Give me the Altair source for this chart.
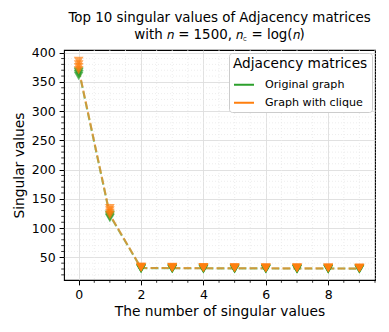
import altair as alt
import pandas as pd

# Data (several trials per graph type)
sv_index = list(range(10))
original_trials = [
    [360, 117, 30.0, 29.8, 29.6, 29.5, 29.4, 29.3, 29.2, 29.1],
    [363, 119, 30.4, 30.2, 30.0, 29.9, 29.8, 29.7, 29.6, 29.5],
    [366, 121, 30.8, 30.6, 30.4, 30.3, 30.2, 30.1, 30.0, 29.9],
    [368, 123, 31.2, 31.0, 30.8, 30.7, 30.6, 30.5, 30.4, 30.3],
]
clique_trials = [
    [370, 122, 32.0, 31.8, 31.6, 31.4, 31.3, 31.2, 31.1, 31.0],
    [375, 126, 32.6, 32.3, 32.1, 31.9, 31.8, 31.7, 31.6, 31.5],
    [380, 130, 33.2, 32.9, 32.6, 32.4, 32.2, 32.1, 32.0, 31.9],
    [386, 134, 33.8, 33.5, 33.2, 32.9, 32.7, 32.5, 32.4, 32.3],
]
original_mean = [371, 122, 31.6, 31.4, 31.2, 31.1, 31.0, 30.9, 30.8, 30.7]
clique_mean = [372, 123, 31.8, 31.6, 31.4, 31.3, 31.2, 31.1, 31.0, 30.9]

series_names = ["Original graph", "Graph with clique"]
series_colors = ["#2ca02c", "#ff7f0e"]

x_ticks = [0, 2, 4, 6, 8]
y_ticks = [50, 100, 150, 200, 250, 300, 350, 400]
x_minor = [v / 2 for v in range(-0, 20)]
y_minor = list(range(20, 410, 10))

pts = []
for trial in original_trials:
    for i, v in zip(sv_index, trial):
        pts.append({"k": i, "sv": v, "graph": series_names[0]})
for trial in clique_trials:
    for i, v in zip(sv_index, trial):
        pts.append({"k": i, "sv": v, "graph": series_names[1]})
pts = pd.DataFrame(pts)

lines = pd.DataFrame(
    [{"k": i, "sv": v, "graph": series_names[0]} for i, v in zip(sv_index, original_mean)]
    + [{"k": i, "sv": v, "graph": series_names[1]} for i, v in zip(sv_index, clique_mean)]
)

W, H = 311, 230
xs = alt.Scale(domain=[-0.47, 9.5], nice=False, zero=False)
ys = alt.Scale(domain=[11.2, 404.6], nice=False, zero=False)
cs = alt.Scale(domain=series_names, range=series_colors)

xmin_df = pd.DataFrame({"k": [v for v in x_minor if v not in x_ticks]})
ymin_df = pd.DataFrame({"sv": [v for v in y_minor if v not in y_ticks]})

x_axis = alt.Axis(values=x_ticks, format="d", labelOverlap=False, title="The number of singular values")
y_axis = alt.Axis(values=y_ticks, format="d", labelOverlap=False, title="Singular values")

minor_vgrid = alt.Chart(xmin_df).mark_rule(color="#e8e8e8", strokeDash=[1, 2], strokeWidth=0.8).encode(
    x=alt.X("k:Q", scale=xs, axis=x_axis)
)
minor_hgrid = alt.Chart(ymin_df).mark_rule(color="#e8e8e8", strokeDash=[1, 2], strokeWidth=0.8).encode(
    y=alt.Y("sv:Q", scale=ys, axis=y_axis)
)
minor_xticks = alt.Chart(xmin_df).mark_rule(color="black", strokeWidth=0.8).encode(
    x=alt.X("k:Q", scale=xs, axis=x_axis), y=alt.value(H), y2=alt.value(H + 2.8)
)
minor_yticks = alt.Chart(ymin_df).mark_rule(color="black", strokeWidth=0.8).encode(
    y=alt.Y("sv:Q", scale=ys, axis=y_axis), x=alt.value(-2.8), x2=alt.value(0)
)

line_layer = alt.Chart(lines).mark_line(strokeDash=[7.7, 3.3], strokeWidth=2.1, opacity=0.6).encode(
    x=alt.X("k:Q", scale=xs, axis=x_axis),
    y=alt.Y("sv:Q", scale=ys, axis=y_axis),
    color=alt.Color(
        "graph:N",
        scale=cs,
        sort=series_names,
        legend=alt.Legend(
            title="Adjacency matrices",
            orient="top-right",
            symbolType="stroke",
            symbolStrokeWidth=2,
            symbolSize=400,
            symbolDash=[1, 0],
            symbolOpacity=1,
            fillColor="white",
            strokeColor="#cccccc",
            padding=4,
            cornerRadius=3,
            titleFontSize=13.7,
            titleFontWeight="normal",
            labelFontSize=11.1,
            titleColor="black",
            labelColor="black",
            labelOffset=10,
            offset=3,
            rowPadding=1,
            titlePadding=3,
        ),
    ),
    detail="graph:N",
)

point_layer = alt.Chart(pts).mark_point(shape="triangle-down", filled=True, size=95, opacity=0.7).encode(
    x=alt.X("k:Q", scale=xs, axis=x_axis),
    y=alt.Y("sv:Q", scale=ys, axis=y_axis),
    color=alt.Color("graph:N", scale=cs, legend=None),
)

chart = (
    alt.layer(minor_vgrid, minor_hgrid, minor_xticks, minor_yticks, line_layer, point_layer)
    .properties(
        width=W,
        height=H,
        padding={"left": 4, "top": 3, "right": 5, "bottom": 5},
        title=alt.TitleParams(
            text=["Top 10 singular values of Adjacency matrices", "with 𝑛 = 1500, 𝑛꜀ = log(𝑛)"],
            fontSize=13.4,
            fontWeight="normal",
            font="DejaVu Sans",
            color="black",
            anchor="middle",
            offset=5,
            lineHeight=17,
        ),
    )
    .configure(font="DejaVu Sans")
    .configure_view(stroke="black", strokeWidth=1.1)
    .configure_axis(
        grid=True,
        gridColor="#dedede",
        gridWidth=0.9,
        domain=False,
        tickColor="black",
        tickSize=4.9,
        tickWidth=1,
        labelFontSize=12.5,
        titleFontSize=13.8,
        labelColor="black",
        titleColor="black",
        titleFontWeight="normal",
        labelPadding=4,
        labelOverlap=False,
    )
    .configure_axisX(titlePadding=3)
    .configure_axisY(titlePadding=5)
)

chart.save("out.html", embed_options={"renderer": "svg", "actions": False})
